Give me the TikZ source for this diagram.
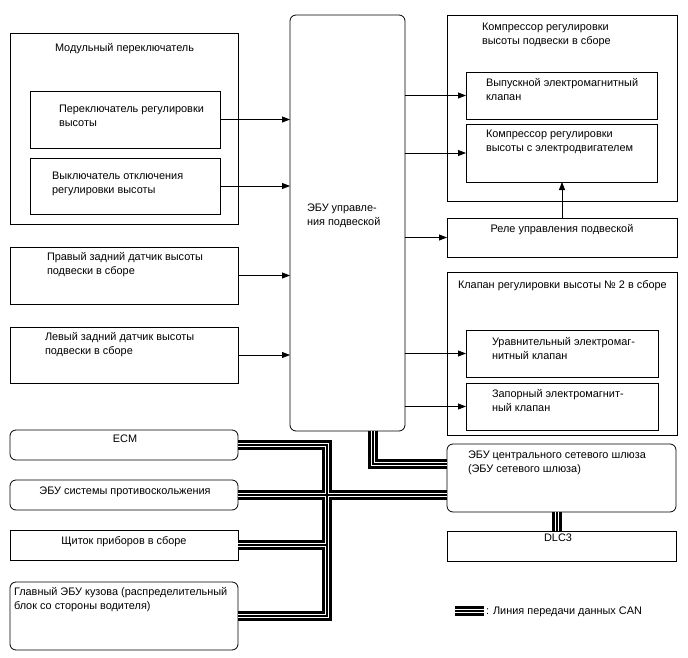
\documentclass[tikz,border=0pt]{standalone}
\usepackage{fontspec}
\setmainfont{Liberation Sans}
\usetikzlibrary{arrows.meta}
\tikzset{
  x=1pt, y=-1pt,
  box/.style={draw=black, line width=0.8pt, rectangle, inner sep=0pt, outer sep=0pt},
  rbox/.style={box, rounded corners=6pt},
  txt/.style={inner sep=0pt, outer sep=0pt, align=left, font=\fontsize{10.9}{14}\selectfont},
  ctxt/.style={txt, align=center},
  sig/.style={draw=black, line width=0.8pt, -{Triangle[length=8pt,width=6pt]}},
}
\newcommand\mybox[6][box]{%
  \node[#1, minimum width={#5-#3}, minimum height={#6-#4}] (#2) at ({(#3+#5)/2},{(#4+#6)/2}) {};}
\newcommand\canroutes{%
  (ecm.east) -- (ecm.east -| trunk) -- (main.east -| trunk) -- (main.east)
  (abs.east) -- (abs.east -| gw.west)
  (dash.east) -- (dash.east -| trunk)
  (ecu.south -| spur) -- (spur) -- (spur -| gw.west)
  (gw.south -| dlcx) -- (dlc.north -| dlcx)
  (legA) -- (legB)}
\begin{document}
\begin{tikzpicture}
\useasboundingbox (0,0) rectangle (688,658);
% left column
\mybox{mod}{10}{33}{238}{224}
\mybox{sw1}{30}{91}{220}{148}
\mybox{sw2}{30}{158}{220}{214}
\mybox{rs}{10}{247}{238}{304}
\mybox{ls}{10}{327}{238}{383}
\mybox[rbox]{ecm}{10}{430}{238}{460}
\mybox[rbox]{abs}{10}{480}{238}{510}
\mybox{dash}{10}{530}{238}{560}
\mybox[rbox]{main}{10}{582}{238}{650}
% ECU
\mybox[rbox]{ecu}{290}{15}{405}{431}
% right column
\mybox{comp}{447}{15}{677}{201}
\mybox{exh}{466}{72}{657}{119}
\mybox{mot}{466}{124}{657}{182}
\mybox{rel}{447}{218}{677}{257}
\mybox{valve}{447}{272}{677}{435}
\mybox{eq}{466}{330}{658}{377}
\mybox{stop}{466}{383}{658}{430}
\mybox[rbox]{gw}{447}{444}{676}{512}
\mybox{dlc}{447}{531}{676}{561}
% texts (base = baseline of last line)
\node[txt, anchor=base west] (tmod) at (55,51.8) {Модульный переключатель};
\node[txt, anchor=base west] (tsw1) at (59,126.8) {Переключатель регулировки\\высоты};
\node[txt, anchor=base west] (tsw2) at (52,193.8) {Выключатель отключения\\регулировки высоты};
\node[txt, anchor=base west] (trs) at (47,274.8) {Правый задний датчик высоты\\подвески в сборе};
\node[txt, anchor=base west] (tls) at (45,354.8) {Левый задний датчик высоты\\подвески в сборе};
\node[ctxt, anchor=base] (tecm) at (125,442.8) {ECM};
\node[ctxt, anchor=base] (tabs) at (125,494.8) {ЭБУ системы противоскольжения};
\node[ctxt, anchor=base] (tdash) at (124,544.8) {Щиток приборов в сборе};
\node[txt, anchor=base west] (tmain) at (14,609.8) {Главный ЭБУ кузова (распределительный\\блок со стороны водителя)};
\node[txt, anchor=base west] (tecu) at (307,225.8) {ЭБУ управле-\\ния подвеской};
\node[txt, anchor=base west] (tcomp) at (482,44.8) {Компрессор регулировки\\высоты подвески в сборе};
\node[txt, anchor=base west] (texh) at (486,100.8) {Выпускной электромагнитный\\клапан};
\node[txt, anchor=base west] (tmot) at (486,151.8) {Компрессор регулировки\\высоты с электродвигателем};
\node[ctxt, anchor=base] (trel) at (562,232.8) {Реле управления подвеской};
\node[txt, anchor=base west] (tvalve) at (458,288.8) {Клапан регулировки высоты № 2 в сборе};
\node[txt, anchor=base west] (teq) at (492,359.8) {Уравнительный электромаг-\\нитный клапан};
\node[txt, anchor=base west] (tstop) at (492,411.8) {Запорный электромагнит-\\ный клапан};
\node[txt, anchor=base west] (tgw) at (468,472.8) {ЭБУ центрального сетевого шлюза\\(ЭБУ сетевого шлюза)};
\node[ctxt, anchor=base] (tdlc) at (558,541.8) {DLC3};
\node[txt, anchor=base west] (tleg) at (486,614.8) {: Линия передачи данных CAN};
% signal arrows
\draw[sig] (sw1.east) -- (sw1.east -| ecu.west);
\draw[sig] (sw2.east) -- (sw2.east -| ecu.west);
\draw[sig] (rs.east) -- (rs.east -| ecu.west);
\draw[sig] (ls.east) -- (ls.east -| ecu.west);
\draw[sig] (exh.west -| ecu.east) -- (exh.west);
\draw[sig] (mot.west -| ecu.east) -- (mot.west);
\draw[sig] (rel.west -| ecu.east) -- (rel.west);
\draw[sig] (eq.west -| ecu.east) -- (eq.west);
\draw[sig] (stop.west -| ecu.east) -- (stop.west);
\draw[sig] (rel.north -| 562,0) -- (mot.south -| 562,0);
% CAN bus
\coordinate (trunk) at (327,0);
\coordinate (spur) at (373,464);
\coordinate (dlcx) at (557,0);
\coordinate (legA) at (455,611);
\coordinate (legB) at (484,611);
\draw[line width=10pt, black, line join=miter] \canroutes;
\draw[line width=4.6pt, white, line join=miter] \canroutes;
\draw[line width=1.2pt, black, line join=miter] \canroutes;
\end{tikzpicture}
\end{document}
